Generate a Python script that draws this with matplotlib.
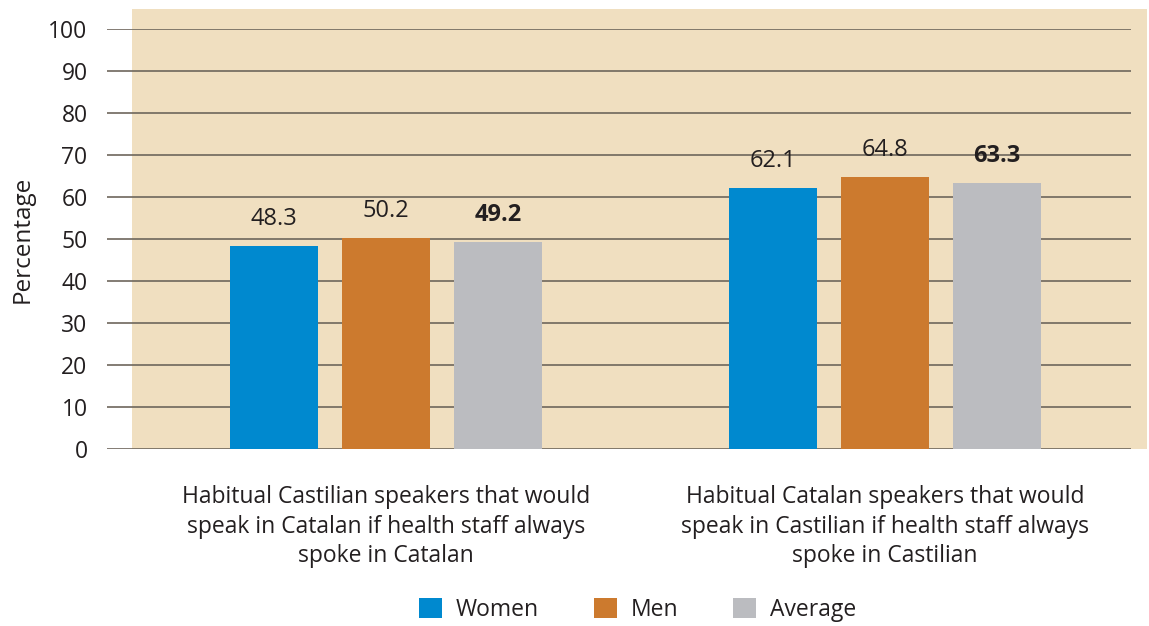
import matplotlib.pyplot as plt
from matplotlib.patches import Rectangle, Patch

categories = ["Habitual Castilian speakers that would\nspeak in Catalan if health staff always\nspoke in Catalan",
              "Habitual Catalan speakers that would\nspeak in Castilian if health staff always\nspoke in Castilian"]
series = ["Women", "Men", "Average"]
women = [48.3, 62.1]
men = [50.2, 64.8]
average = [49.2, 63.3]
yticks = [0, 10, 20, 30, 40, 50, 60, 70, 80, 90, 100]

colors = ["#0089cf", "#cc7a2e", "#bbbcc0"]
beige = "#f0dfc0"
grid_c = "#6e665c"
txt_c = "#231f20"
fs = 16.5

plt.rcParams['font.family'] = ['Open Sans', 'DejaVu Sans']

W, H = 1149, 626
fig = plt.figure(figsize=(W / 100, H / 100), dpi=100)

# beige plot background (extends past the gridlines on the right)
fig.patches.append(Rectangle((132 / W, 1 - 449 / H), 1015 / W, 440 / H,
                             transform=fig.transFigure, facecolor=beige,
                             edgecolor="none", zorder=-1))

ax = fig.add_axes([107 / W, 1 - 449 / H, 1024 / W, 420 / H])
ax.set_zorder(1)
ax.set_facecolor("none")
for s in ax.spines.values():
    s.set_visible(False)

ax.set_ylim(0, 100)
ax.set_xlim(-0.559, 1.493)
for y in yticks:
    ax.axhline(y, color=grid_c, lw=1.2, zorder=1)

bw = 0.1764
step = 0.2244
for i, (name, vals) in enumerate(zip(series, [women, men, average])):
    xs = [c + (i - 1) * step for c in range(len(categories))]
    ax.bar(xs, vals, width=bw, color=colors[i], zorder=2, label=name)
    for x, v in zip(xs, vals):
        ax.annotate(f"{v:.1f}", (x, v), xytext=(0, 11), textcoords="offset points",
                    ha="center", va="bottom", fontsize=17, color=txt_c,
                    fontweight="bold" if name == "Average" else "normal")

ax.set_yticks(yticks)
ax.set_yticklabels([str(t) for t in yticks], fontsize=fs, color=txt_c)
ax.tick_params(axis="y", length=0, pad=14)
ax.set_xticks(range(len(categories)))
ax.set_xticklabels(categories, fontsize=fs, color=txt_c, linespacing=1.3)
ax.tick_params(axis="x", length=0, pad=26)
ax.set_ylabel("Percentage", fontsize=17.5, color=txt_c, labelpad=10)

handles = [Patch(facecolor=c, edgecolor="none") for c in colors]
fig.legend(handles, series, loc="center", bbox_to_anchor=(0.555, 1 - 610 / H),
           ncol=3, frameon=False, fontsize=fs, handlelength=1.0, handleheight=1.0,
           handletextpad=0.6, columnspacing=2.4, labelcolor=txt_c)

fig.savefig("out.png", dpi=100)
